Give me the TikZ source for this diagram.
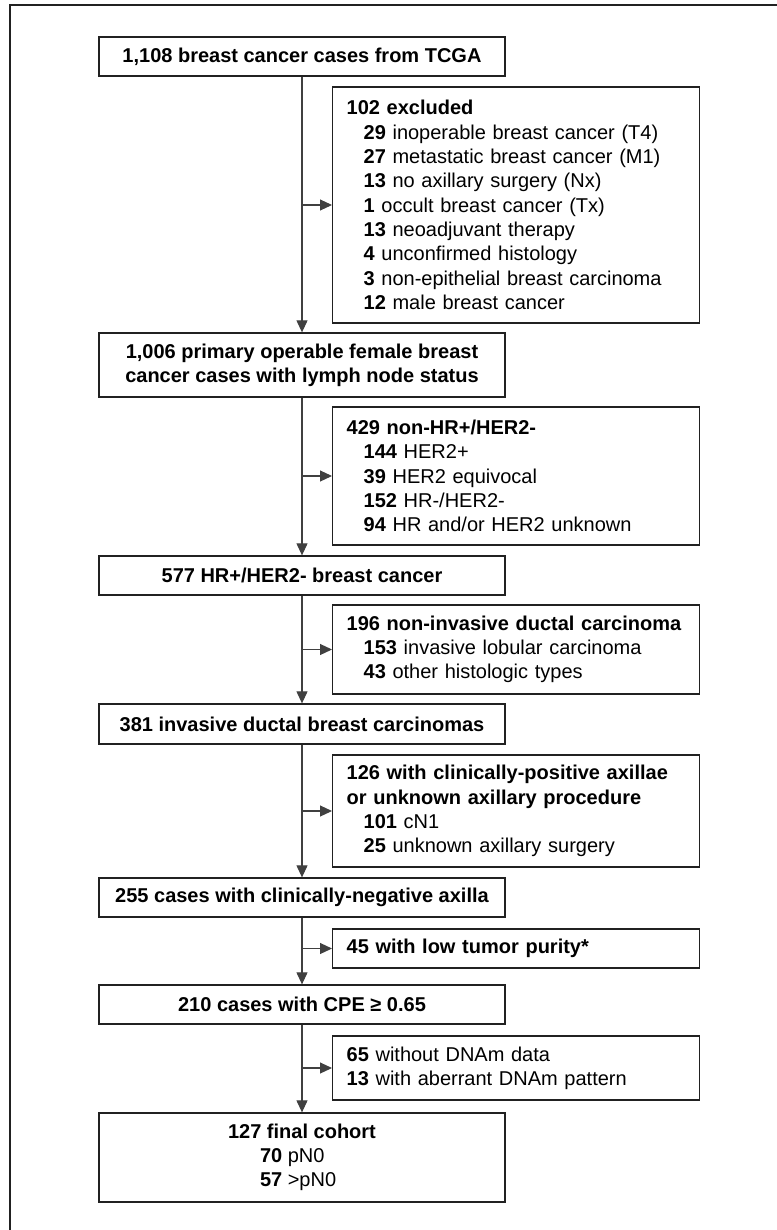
\documentclass[tikz,border=0pt]{standalone}
\usepackage{fontspec}
\setmainfont{Liberation Sans}
\usetikzlibrary{arrows.meta}
\definecolor{c1}{rgb}{0.13, 0.13, 0.13}
\definecolor{c2}{rgb}{0.25, 0.25, 0.25}
\newcommand{\exrow}[2]{\hspace*{17pt}\textbf{#1} #2}
\tikzset{
  main_box/.style={rectangle, draw=c1, line width=1.3pt, minimum width=406pt, inner sep=0pt, align=center, font=\bfseries\fontsize{20}{24.3}\selectfont},
  excl_box/.style={rectangle, draw=c1, line width=1.3pt, anchor=west, text width=339pt, inner xsep=14pt, inner ysep=0pt, align=left, font=\fontsize{20}{24.3}\selectfont},
  edge/.style = {-{Triangle[length=12pt, width=11pt]}, draw=c2, line width=1.1pt},
  frame_line/.style = {c1, line width=2pt},
}

\begin{document}
\begin{tikzpicture}[x=1pt, y=-1pt]
    \useasboundingbox (0,0) rectangle (776,1230);
    \draw[frame_line] (10,1231) -- (10,5) -- (777,5);

    % cohort
    \node[main_box, minimum height=39pt] (m1) at (302,56.5) {1,108 breast cancer cases from TCGA};

    \node[main_box, minimum height=64pt] (m2) at (302,365) {1,006 primary operable female breast\\cancer cases with lymph node status};

    \node[main_box, minimum height=39pt] (m3) at (302,575.5) {577 HR+/HER2- breast cancer};

    \node[main_box, minimum height=40pt] (m4) at (302,724) {381 invasive ductal breast carcinomas};

    \node[main_box, minimum height=39pt] (m5) at (302,897.5) {255 cases with clinically-negative axilla};

    \node[main_box, minimum height=39pt] (m6) at (302,1004.5) {210 cases with CPE ≥ 0.65};

    \node[main_box, minimum height=89pt] (m7) at (302,1157.5) {127 final cohort\\\makebox[84pt][l]{70 \textmd{pN0}}\\\makebox[84pt][l]{57 \textmd{>pN0}}};

    % excluded
    \node[excl_box, minimum height=236pt] (e1) at (332,205) {\textbf{102 excluded}\\
        \exrow{29}{inoperable breast cancer (T4)}\\
        \exrow{27}{metastatic breast cancer (M1)}\\
        \exrow{13}{no axillary surgery (Nx)}\\
        \exrow{1}{occult breast cancer (Tx)}\\
        \exrow{13}{neoadjuvant therapy}\\
        \exrow{4}{unconfirmed histology}\\
        \exrow{3}{non-epithelial breast carcinoma}\\
        \exrow{12}{male breast cancer}};

    \node[excl_box, minimum height=138pt] (e2) at (332,476) {\textbf{429 non-HR+/HER2-}\\
        \exrow{144}{HER2+}\\
        \exrow{39}{HER2 equivocal}\\
        \exrow{152}{HR-/HER2-}\\
        \exrow{94}{HR and/or HER2 unknown}};

    \node[excl_box, minimum height=89pt] (e3) at (332,649.5) {\textbf{196 non-invasive ductal carcinoma}\\
        \exrow{153}{invasive lobular carcinoma}\\
        \exrow{43}{other histologic types}};

    \node[excl_box, minimum height=112pt] (e4) at (332,811) {\textbf{126 with clinically-positive axillae}\\
        \textbf{or unknown axillary procedure}\\
        \exrow{101}{cN1}\\
        \exrow{25}{unknown axillary surgery}};

    \node[excl_box, minimum height=39pt] (e5) at (332,948.5) {\textbf{45 with low tumor purity*}};

    \node[excl_box, minimum height=64pt] (e6) at (332,1068) {\textbf{65} without DNAm data\\
        \textbf{13} with aberrant DNAm pattern};

    {
        \draw[edge] (m1) -- (m2);
        \draw[edge] (m2) -- (m3);
        \draw[edge] (m3) -- (m4);
        \draw[edge] (m4) -- (m5);
        \draw[edge] (m5) -- (m6);
        \draw[edge] (m6) -- (m7);

        \draw[edge] (m1.south |- e1.west) -- (e1.west);
        \draw[edge] (m2.south |- e2.west) -- (e2.west);
        \draw[edge] (m3.south |- e3.west) -- (e3.west);
        \draw[edge] (m4.south |- e4.west) -- (e4.west);
        \draw[edge] (m5.south |- e5.west) -- (e5.west);
        \draw[edge] (m6.south |- e6.west) -- (e6.west);
    }

\end{tikzpicture}
\end{document}
